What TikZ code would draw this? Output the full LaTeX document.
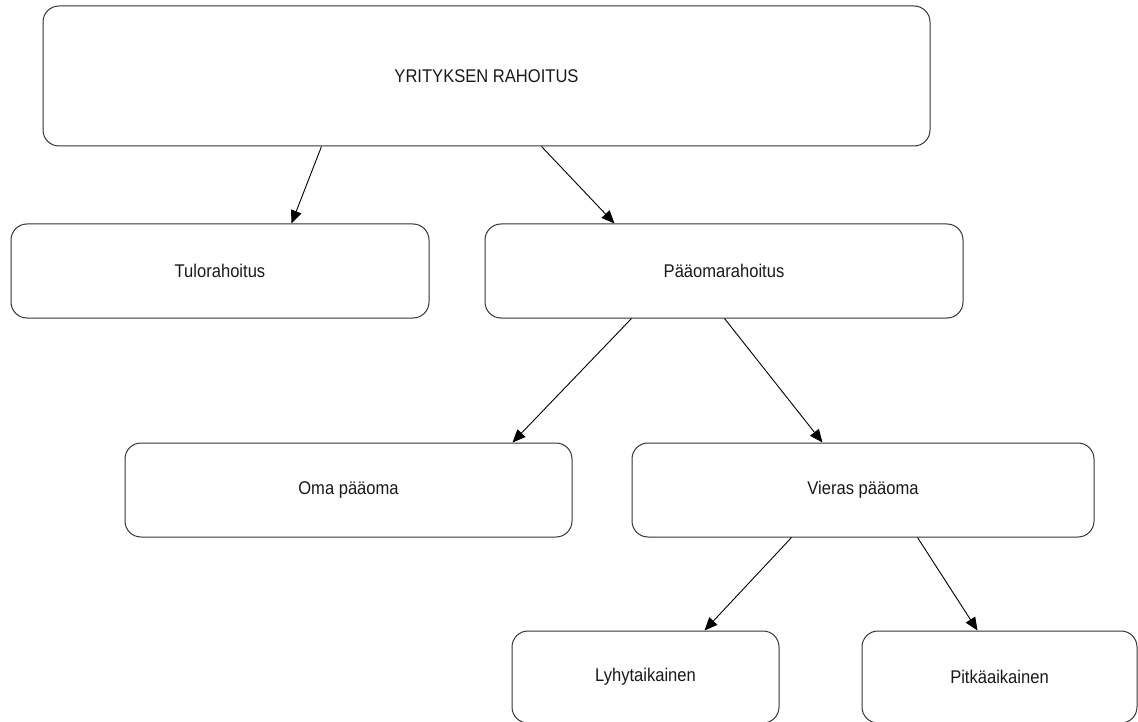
\documentclass[tikz,border=0pt]{standalone}
\usepackage{fontspec}
\setmainfont{Liberation Sans}
\newfontfamily\boxfont[FakeStretch=0.9]{Liberation Sans}
\usetikzlibrary{arrows.meta}
\begin{document}
\begin{tikzpicture}[x=1pt,y=-1pt,
  box/.style={draw=black!80, line width=1pt, rounded corners=16pt, inner sep=0pt,
    font=\boxfont\fontsize{18.4}{20}\selectfont, text=black!90},
  arr/.style={draw=black, line width=0.9pt, -{Triangle[length=13pt,width=11pt]}}]
\useasboundingbox (0,0) rectangle (1138,722);
\node[box, minimum width=887pt, minimum height=140pt] (top) at (486.5,76) {YRITYKSEN RAHOITUS};
\node[box, minimum width=418pt, minimum height=94pt] (tulo) at (220,271) {Tulorahoitus};
\node[box, minimum width=478pt, minimum height=94pt] (pao) at (724,271) {Pääomarahoitus};
\node[box, minimum width=447pt, minimum height=94pt] (oma) at (348.5,490) {Oma pääoma};
\node[box, minimum width=462pt, minimum height=94pt] (vie) at (863,490) {Vieras pääoma};
\node[box, minimum width=267pt, minimum height=92pt] (lyh) at (645.5,677) {Lyhytaikainen};
\node[box, minimum width=275pt, minimum height=92pt] (pit) at (999.5,677) {Pitkäaikainen};
\draw[arr] ([xshift=279pt]top.south west) -- ([xshift=281pt]tulo.north west);
\draw[arr] ([xshift=499pt]top.south west) -- ([xshift=130pt]pao.north west);
\draw[arr] ([xshift=147pt]pao.south west) -- ([xshift=388pt]oma.north west);
\draw[arr] ([xshift=240pt]pao.south west) -- ([xshift=191pt]vie.north west);
\draw[arr] ([xshift=160pt]vie.south west) -- ([xshift=193pt]lyh.north west);
\draw[arr] ([xshift=286pt]vie.south west) -- ([xshift=116pt]pit.north west);
\end{tikzpicture}
\end{document}
